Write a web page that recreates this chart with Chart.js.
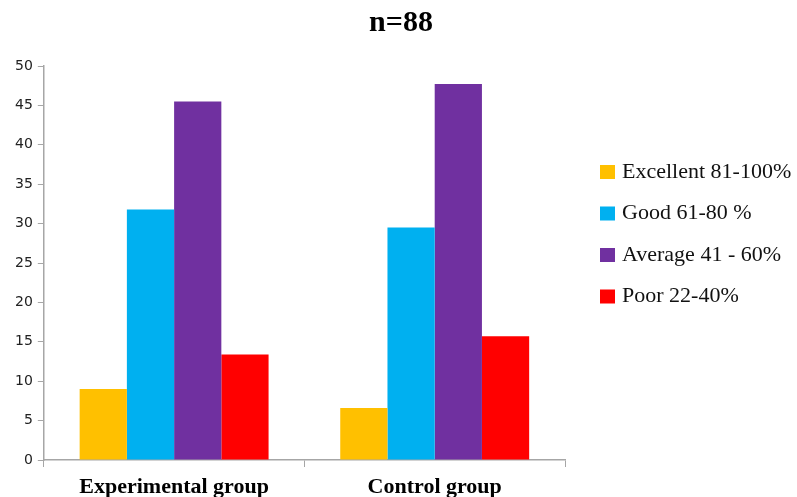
<!DOCTYPE html>
<html>
<head>
<meta charset="utf-8">
<script src="https://cdn.jsdelivr.net/npm/chart.js@4.4.1/dist/chart.umd.min.js"></script>
<style>
  html, body { margin: 0; padding: 0; background: #fff; }
  #wrap { width: 797px; height: 497px; }
</style>
</head>
<body>
<div id="wrap"><canvas id="chart" width="797" height="497"></canvas></div>
<script>
// ==========================================
// Data
// ==========================================
const groups = ['Experimental group', 'Control group'];
const gradeLabels = ['Excellent 81-100%', 'Good 61-80 %', 'Average 41 - 60%', 'Poor 22-40%'];
const excellent = [9.0, 6.6];
const good = [31.8, 29.5];
const average = [45.5, 47.7];
const poor = [13.4, 15.7];
const gradeColors = ['#FFC000', '#00B0F0', '#7030A0', '#FF0000'];
const chartTitle = 'n=88';

const AXIS = '#a6a6a6';
const SERIF = '"Liberation Serif", "Times New Roman", serif';

// Título + leyenda a la derecha (cuadros + texto serif)
const decorations = {
    id: 'decorations',
    afterDraw(chart) {
        const ctx = chart.ctx;
        ctx.save();
        ctx.fillStyle = '#000';
        ctx.font = 'bold 30px ' + SERIF;
        ctx.textAlign = 'center';
        ctx.textBaseline = 'middle';
        ctx.fillText(chartTitle, 401, 23);

        ctx.font = '22px ' + SERIF;
        ctx.textAlign = 'left';
        chart.data.datasets.forEach((ds, i) => {
            const y = 172 + i * 41.5;
            ctx.fillStyle = ds.backgroundColor;
            ctx.fillRect(600, y - 7, 15, 14);
            ctx.fillStyle = '#111';
            ctx.fillText(ds.label, 622, y);
        });
        ctx.restore();
    }
};

const seriesValues = [excellent, good, average, poor];

new Chart(document.getElementById('chart'), {
    type: 'bar',
    data: {
        labels: groups,
        datasets: gradeLabels.map((label, i) => ({
            label: label,
            data: seriesValues[i],
            backgroundColor: gradeColors[i],
            borderWidth: 0,
            barPercentage: 1,
            categoryPercentage: 0.725
        }))
    },
    options: {
        responsive: false,
        animation: false,
        layout: {
            padding: { left: 10, right: 232, top: 66, bottom: -10 }
        },
        plugins: {
            legend: { display: false },
            tooltip: { enabled: false },
            title: { display: false }
        },
        scales: {
            x: {
                border: { color: AXIS, width: 1.5 },
                grid: { display: true, drawOnChartArea: false, color: AXIS, tickLength: 7, offset: true },
                ticks: {
                    color: '#000',
                    padding: 9,
                    font: { family: SERIF, size: 22, weight: 'bold', lineHeight: 1 }
                }
            },
            y: {
                min: 0,
                max: 50,
                border: { color: AXIS, width: 1.5 },
                grid: { drawOnChartArea: false, color: AXIS, tickLength: 6 },
                ticks: {
                    stepSize: 5,
                    color: '#222',
                    padding: 5,
                    font: { family: '"DejaVu Sans", Verdana, sans-serif', size: 14 }
                }
            }
        }
    },
    plugins: [decorations]
});
</script>
</body>
</html>
